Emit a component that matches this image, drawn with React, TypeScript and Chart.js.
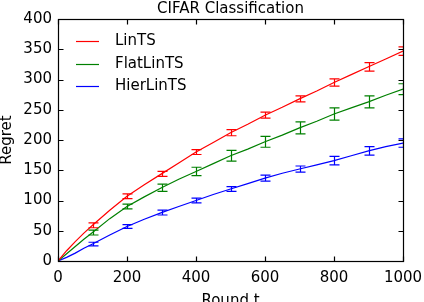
import React, { useEffect, useRef } from "react";
import { Chart, registerables } from "chart.js";

Chart.register(...registerables);

const rounds = [0, 25, 50, 75, 100, 150, 200, 250, 300, 350, 400, 450, 500, 550, 600, 650, 700, 750, 800, 850, 900, 950, 1000];
const linTS = [0, 17, 32, 46, 59, 84, 107, 126, 144, 162, 180, 196, 212, 226, 241, 254, 268, 281, 295, 308, 321, 334, 347];
const flatLinTS = [0, 12, 24, 36, 47, 70, 90, 106, 121, 135, 148, 161, 174, 185, 197, 208, 220, 231, 243, 253, 263, 274, 284];
const hierLinTS = [0, 6, 13, 21, 28, 43, 57, 69, 80, 90, 100, 110, 119, 128, 137, 145, 152, 159, 166, 174, 182, 189, 195];

const errRounds = [100, 200, 300, 400, 500, 600, 700, 800, 900, 1000];
const errLinTS = [4, 4, 4, 4, 5, 5, 5, 6, 7, 7];
const errFlatLinTS = [4, 4, 6, 7, 9, 9, 10, 10, 10, 9];
const errHierLinTS = [3, 3, 4, 4, 4, 5, 5, 7, 7, 7];

const seriesNames = ["LinTS", "FlatLinTS", "HierLinTS"];
const colors = ["#ff0000", "#008000", "#0000ff"];

const FONT = "'DejaVu Sans', sans-serif";

export default function App() {
  const ref = useRef<HTMLCanvasElement | null>(null);

  useEffect(() => {
    document.body.style.margin = "0";
    const canvas = ref.current;
    if (!canvas) return;

    const series = [linTS, flatLinTS, hierLinTS];
    const errs = [errLinTS, errFlatLinTS, errHierLinTS];

    const framePlugin = {
      id: "framePlugin",
      afterDatasetsDraw(chart: any) {
        const ctx = chart.ctx;
        const { left, right, top, bottom } = chart.chartArea;
        const xs = chart.scales.x;
        const ys = chart.scales.y;
        // error bars
        ctx.save();
        ctx.beginPath();
        ctx.rect(left, top, right - left, bottom - top);
        ctx.clip();
        ctx.lineWidth = 1.2;
        series.forEach((vals, si) => {
          ctx.strokeStyle = colors[si];
          errRounds.forEach((r, i) => {
            const idx = rounds.indexOf(r);
            const m = vals[idx];
            const e = errs[si][i];
            const px = Math.round(xs.getPixelForValue(r)) + 0.5;
            const y1 = ys.getPixelForValue(m - e);
            const y2 = ys.getPixelForValue(m + e);
            ctx.beginPath();
            ctx.moveTo(px, y1);
            ctx.lineTo(px, y2);
            ctx.moveTo(px - 5, y1);
            ctx.lineTo(px + 5, y1);
            ctx.moveTo(px - 5, y2);
            ctx.lineTo(px + 5, y2);
            ctx.stroke();
          });
        });
        ctx.restore();

        // frame + inward ticks
        ctx.save();
        ctx.strokeStyle = "#000";
        ctx.lineWidth = 1.2;
        const L = Math.round(left) + 0.5, R = Math.round(right) + 0.5, T = Math.round(top) + 0.5, B = Math.round(bottom) + 0.5;
        ctx.strokeRect(L, T, R - L, B - T);
        const tl = 5;
        ctx.beginPath();
        xs.ticks.forEach((t: any) => {
          const px = Math.round(xs.getPixelForValue(t.value)) + 0.5;
          ctx.moveTo(px, B);
          ctx.lineTo(px, B - tl);
          ctx.moveTo(px, T);
          ctx.lineTo(px, T + tl);
        });
        ys.ticks.forEach((t: any) => {
          const py = Math.round(ys.getPixelForValue(t.value)) + 0.5;
          ctx.moveTo(L, py);
          ctx.lineTo(L + tl, py);
          ctx.moveTo(R, py);
          ctx.lineTo(R - tl, py);
        });
        ctx.stroke();

        // legend
        ctx.font = `15px ${FONT}`;
        ctx.textBaseline = "middle";
        ctx.textAlign = "left";
        seriesNames.forEach((name, i) => {
          const y = Math.round(top + 22 + i * 22.7) + 0.5;
          ctx.strokeStyle = colors[i];
          ctx.lineWidth = 1.2;
          ctx.beginPath();
          ctx.moveTo(left + 18, y);
          ctx.lineTo(left + 41, y);
          ctx.stroke();
          ctx.fillStyle = "#000";
          ctx.fillText(name, left + 57, y);
        });
        ctx.restore();
      },
    };

    const bgPlugin = {
      id: "bgPlugin",
      beforeDraw(chart: any) {
        const ctx = chart.ctx;
        ctx.save();
        ctx.fillStyle = "#fff";
        ctx.fillRect(0, 0, chart.width, chart.height);
        ctx.restore();
      },
    };

    const chart = new Chart(canvas, {
      type: "line",
      data: {
        datasets: series.map((vals, si) => ({
          label: seriesNames[si],
          data: rounds.map((r, i) => ({ x: r, y: vals[i] })),
          borderColor: colors[si],
          backgroundColor: colors[si],
          borderWidth: 1.2,
          pointRadius: 0,
          tension: 0,
          fill: false,
        })),
      },
      options: {
        animation: false,
        responsive: false,
        maintainAspectRatio: false,
        layout: { padding: 0 },
        plugins: {
          legend: { display: false },
          tooltip: { enabled: false },
          title: {
            display: true,
            text: "CIFAR Classification",
            color: "#000",
            fullSize: false,
            font: { family: FONT, size: 15, weight: "normal", lineHeight: 1.2 },
            padding: { top: 0, bottom: 1 },
          },
        },
        scales: {
          x: {
            type: "linear",
            min: 0,
            max: 1000,
            grid: { display: false, drawTicks: false },
            border: { display: false },
            ticks: {
              stepSize: 200,
              color: "#000",
              padding: 8,
              maxRotation: 0,
              font: { family: FONT, size: 15 },
              callback: (v: any) => String(v),
            },
            title: {
              display: true,
              text: "Round t",
              color: "#000",
              font: { family: FONT, size: 15, lineHeight: 1.2 },
              padding: { top: 0, bottom: -8 },
            },
            afterFit(s: any) {
              s.height = 41;
              s.paddingLeft = 0;
              s.paddingRight = 21;
            },
          },
          y: {
            type: "linear",
            min: 0,
            max: 400,
            grid: { display: false, drawTicks: false },
            border: { display: false },
            ticks: {
              stepSize: 50,
              color: "#000",
              padding: 6,
              font: { family: FONT, size: 15 },
              callback: (v: any) => String(v),
            },
            title: {
              display: true,
              text: "Regret",
              color: "#000",
              font: { family: FONT, size: 15, lineHeight: 1.2 },
              padding: { top: -1.5, bottom: 0 },
            },
            afterFit(s: any) {
              s.width = 58;
            },
          },
        },
      },
      plugins: [bgPlugin, framePlugin],
    });

    return () => chart.destroy();
  }, []);

  return (
    <div style={{ width: 424, height: 302 }}>
      <canvas ref={ref} width={424} height={302} style={{ display: "block" }} />
    </div>
  );
}
